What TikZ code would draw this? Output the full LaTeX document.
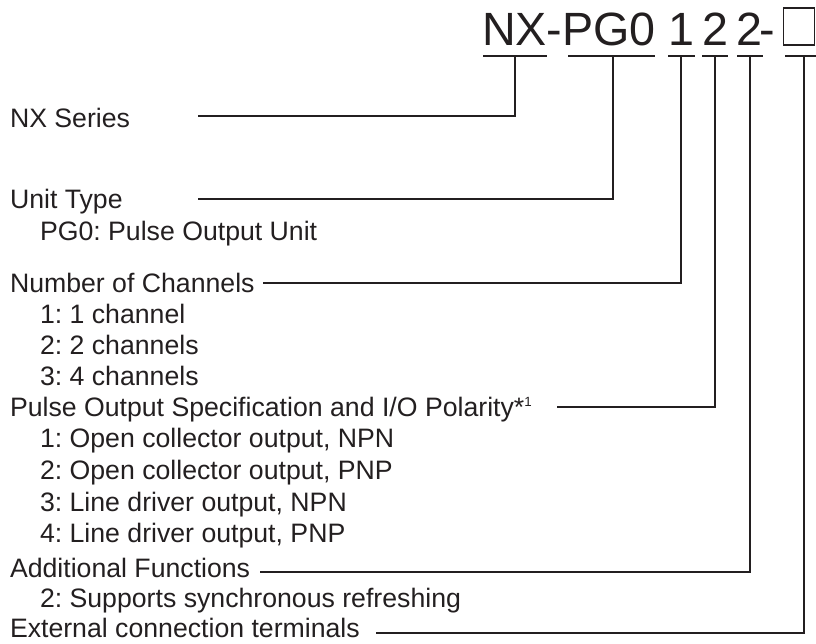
\documentclass[tikz,border=0pt]{standalone}
\usepackage{fontspec}
\setmainfont{Liberation Sans}
\definecolor{ink}{HTML}{231F20}
\frenchspacing
\begin{document}
\begin{tikzpicture}[x=0.75pt,y=-0.75pt,
  lbl/.style={anchor=base west,inner sep=0pt,outer sep=0pt,text=ink,font=\fontsize{20}{24}\selectfont},
  ttl/.style={anchor=base,inner sep=0pt,outer sep=0pt,text=ink,font=\fontsize{35}{40}\selectfont},
  ttlw/.style={ttl,anchor=base west},
  conn/.style={draw=ink,line width=0.9pt},
  uline/.style={draw=ink,line width=0.9pt}]
\useasboundingbox (0,0) rectangle (816,643);

% title code
\node[ttlw] (tnx) at (482,45) {NX-PG0};
\node[ttl] (t1) at (681,45) {1};
\node[ttl] (t2) at (715,45) {2};
\node[ttl] (t3) at (749,45) {2};
\node[ttlw] (tdash) at (759,45) {-};
\draw[draw=ink,line width=1pt] (783.5,8) rectangle (814.5,45);

% underlines
\draw[uline] (483,56) -- (547,56);
\draw[uline] (568,56) -- (655,56);
\draw[uline] (668,56) -- (695,56);
\draw[uline] (702,56) -- (728,56);
\draw[uline] (737,56) -- (763,56);
\draw[uline] (785,56) -- (816,56);
\coordinate (u1) at (515,56);
\coordinate (u2) at (613,56);
\coordinate (u3) at (681,56);
\coordinate (u4) at (715,56);
\coordinate (u5) at (750,56);
\coordinate (u6) at (804,56);

% labels
\node[lbl] (nx) at (10,127) {NX Series};
\node[lbl] (ut) at (10,208) {Unit Type};
\node[lbl] (ut1) at (40,240) {PG0: Pulse Output Unit};
\node[lbl] (nc) at (10,292) {Number of Channels};
\node[lbl] (nc1) at (40,323) {1: 1 channel};
\node[lbl] (nc2) at (40,354) {2: 2 channels};
\node[lbl] (nc3) at (40,385) {3: 4 channels};
\node[lbl] (po) at (10,416) {Pulse Output Specification and I/O Polarity*\raisebox{7pt}{\fontsize{10}{10}\selectfont 1}};
\node[lbl] (po1) at (40,447) {1: Open collector output, NPN};
\node[lbl] (po2) at (40,479) {2: Open collector output, PNP};
\node[lbl] (po3) at (40,511) {3: Line driver output, NPN};
\node[lbl] (po4) at (40,542) {4: Line driver output, PNP};
\node[lbl] (af) at (10,577) {Additional Functions};
\node[lbl] (af1) at (40,607) {2: Supports synchronous refreshing};
\node[lbl] (ec) at (10,637) {External connection terminals};

% connector start points
\coordinate (s1) at (198,116);
\coordinate (s2) at (198,199);
\coordinate (s3) at (263,283);
\coordinate (s4) at (557,407);
\coordinate (s5) at (260,572);
\coordinate (s6) at (376,633);

\draw[conn] (s1) -- (s1 -| u1) -- (u1);
\draw[conn] (s2) -- (s2 -| u2) -- (u2);
\draw[conn] (s3) -- (s3 -| u3) -- (u3);
\draw[conn] (s4) -- (s4 -| u4) -- (u4);
\draw[conn] (s5) -- (s5 -| u5) -- (u5);
\draw[conn] (s6) -- (s6 -| u6) -- (u6);
\end{tikzpicture}
\end{document}
